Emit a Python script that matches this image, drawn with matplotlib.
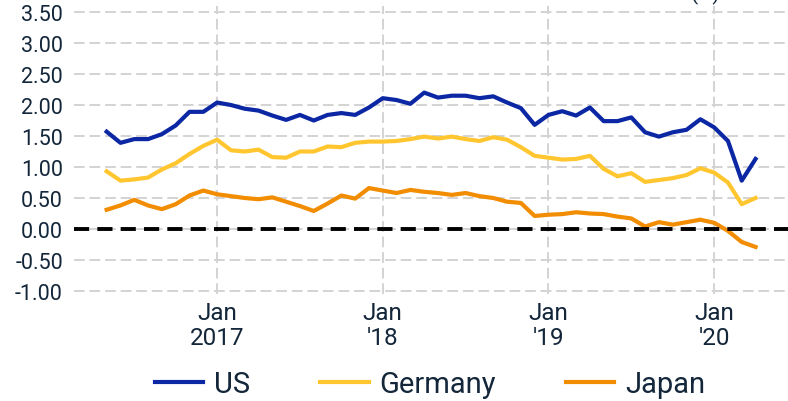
import numpy as np
import pandas as pd
import matplotlib
matplotlib.use("Agg")
import matplotlib.pyplot as plt

plt.rcParams["font.family"] = ["Roboto", "DejaVu Sans"]

# monthly, May 2016 .. Apr 2020
months = pd.date_range("2016-05-01", "2020-04-01", freq="MS")

us = [1.57, 1.39, 1.45, 1.45, 1.53, 1.67, 1.89, 1.89,
      2.04, 2.00, 1.94, 1.91, 1.83, 1.76, 1.84, 1.75, 1.84, 1.87, 1.84, 1.96,
      2.11, 2.08, 2.02, 2.20, 2.12, 2.15, 2.15, 2.11, 2.14, 2.04, 1.95, 1.68,
      1.84, 1.90, 1.83, 1.96, 1.74, 1.74, 1.80, 1.56, 1.49, 1.56, 1.60, 1.77,
      1.64, 1.42, 0.78, 1.13]
germany = [0.93, 0.78, 0.80, 0.83, 0.96, 1.06, 1.21, 1.34,
           1.44, 1.27, 1.25, 1.28, 1.16, 1.15, 1.25, 1.25, 1.33, 1.32, 1.39, 1.41,
           1.41, 1.42, 1.45, 1.49, 1.46, 1.49, 1.45, 1.42, 1.48, 1.44, 1.32, 1.18,
           1.15, 1.12, 1.13, 1.18, 0.97, 0.85, 0.90, 0.76, 0.79, 0.82, 0.87, 0.98,
           0.91, 0.75, 0.40, 0.50]
japan = [0.31, 0.38, 0.47, 0.38, 0.32, 0.40, 0.54, 0.62,
         0.56, 0.53, 0.50, 0.48, 0.51, 0.44, 0.37, 0.29, 0.41, 0.54, 0.49, 0.66,
         0.62, 0.58, 0.63, 0.60, 0.58, 0.55, 0.58, 0.53, 0.50, 0.44, 0.42, 0.21,
         0.23, 0.24, 0.27, 0.25, 0.24, 0.20, 0.17, 0.04, 0.11, 0.07, 0.11, 0.15,
         0.10, -0.03, -0.21, -0.29]

yticks = [-1.0, -0.5, 0.0, 0.5, 1.0, 1.5, 2.0, 2.5, 3.0, 3.5]
xlabels = ["Jan\n2017", "Jan\n'18", "Jan\n'19", "Jan\n'20"]

TXT = "#13263a"
x = np.arange(len(months))

fig = plt.figure(figsize=(7.88, 4.02), dpi=100)
ax = fig.add_axes([0.094, 0.266, 0.906, 0.717])

ax.plot(x, us, color="#0b27a3", lw=3.0, label="US")
ax.plot(x, germany, color="#ffc62f", lw=3.0, label="Germany")
ax.plot(x, japan, color="#f28c00", lw=3.0, label="Japan")
ax.axhline(0, color="black", lw=2.8, ls=(0, (3.9, 2.1)), zorder=3)

ax.set_ylim(-1.05, 3.6)
ax.set_xlim(-2.36, 49.35)
ax.set_yticks(yticks)
ax.set_yticklabels([f"{v:.2f}" for v in yticks])
jan_pos = [i for i, m in enumerate(months) if m.month == 1]
ax.set_xticks(jan_pos)
ax.set_xticklabels(xlabels, linespacing=1.1)

ax.grid(True, color="#d3d3d3", ls=(0, (5.5, 2.5)), lw=1.4)
ax.set_axisbelow(True)
for s in ax.spines.values():
    s.set_visible(False)
ax.tick_params(length=0, colors=TXT)
ax.tick_params(axis="y", labelsize=15.5, pad=8)
ax.tick_params(axis="x", labelsize=17.5, pad=5)

fig.text(0.895, 1.0, "(%)", ha="center", va="baseline", fontsize=15, color=TXT)

fig.legend(loc="center", bbox_to_anchor=(0.546, 0.042), ncol=3, frameon=False,
           fontsize=21, handlelength=1.65, columnspacing=2.4, handletextpad=0.38,
           labelcolor=TXT)

fig.savefig("out.png", dpi=100)
